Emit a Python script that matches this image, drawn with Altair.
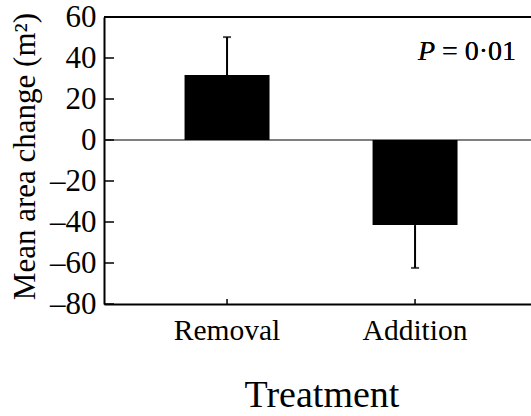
import altair as alt
import pandas as pd

treatments = ["Removal", "Addition"]
means = [31.7, -41.5]
err_ends = [50.2, -62.4]
y_ticks = [-80, -60, -40, -20, 0, 20, 40, 60]

FONT = "Liberation Serif"
W, H = 427, 287

df = pd.DataFrame({"Treatment": treatments, "Mean": means, "End": err_ends})
ticks_df = pd.DataFrame({"v": y_ticks})

xscale = alt.Scale(domain=treatments, paddingInner=0.548, paddingOuter=0.4096, align=0.523)
yscale = alt.Scale(domain=[-80, 60], nice=False, zero=False)

x_enc = alt.X(
    "Treatment:N", sort=treatments, scale=xscale,
    axis=alt.Axis(
        title="Treatment", labelAngle=0, ticks=False, grid=False,
        domain=True, domainColor="black", domainWidth=2,
        labelFont=FONT, labelFontSize=29.5, labelColor="black", labelPadding=12,
        titleFont=FONT, titleFontSize=38, titleFontWeight="normal", titleColor="black",
        titleX=217.5, titleY=102.7, titleBaseline="alphabetic", titleAlign="center",
    ),
)
y_enc = alt.Y(
    "Mean:Q", scale=yscale,
    axis=alt.Axis(
        title="Mean area change (m²)", values=y_ticks, ticks=False, grid=False,
        domain=True, domainColor="black", domainWidth=2,
        labelExpr="replace(replace(datum.label, '-', '\u2013'), '\u2212', '\u2013')",
        labelFont=FONT, labelFontSize=31, labelColor="black", labelPadding=8,
        titleFont=FONT, titleFontSize=31, titleFontWeight="normal", titleColor="black",
        titleX=-70, titleY=139, titleAngle=270, titleBaseline="alphabetic", titleAlign="center",
    ),
)

base = alt.Chart(df)

bars = base.mark_bar(color="black").encode(x=x_enc, y=y_enc)

zero_line = alt.Chart(df).mark_rule(color="#555555", strokeWidth=1).encode(y=alt.datum(0, scale=yscale))

err = base.mark_rule(color="black", strokeWidth=2).encode(
    x=alt.X("Treatment:N", sort=treatments), y="Mean:Q", y2="End:Q"
)
caps = base.mark_tick(color="black", size=8, thickness=2, orient="horizontal").encode(
    x=alt.X("Treatment:N", sort=treatments), y=alt.Y("End:Q")
)

yticks = alt.Chart(ticks_df).mark_rule(color="black", strokeWidth=1.5).encode(
    y=alt.Y("v:Q"), x=alt.value(0), x2=alt.value(10)
)
xticks = base.mark_rule(color="black", strokeWidth=1.5).encode(
    x=alt.X("Treatment:N", sort=treatments), y=alt.value(H), y2=alt.value(H - 5)
)

top_border = alt.Chart(df).mark_rule(color="black", strokeWidth=2).encode(
    x=alt.value(0), x2=alt.value(W), y=alt.value(0)
)

p_italic = alt.Chart(df).mark_text(
    font=FONT, fontSize=28, fontStyle="italic", align="left", baseline="alphabetic", color="black"
).encode(x=alt.value(314), y=alt.value(43), text=alt.value("P"))
p_rest = alt.Chart(df).mark_text(
    font=FONT, fontSize=28, align="left", baseline="alphabetic", color="black"
).encode(x=alt.value(338), y=alt.value(43), text=alt.value("= 0·01"))

chart = alt.layer(
    zero_line, bars, err, caps, yticks, xticks, top_border, p_italic, p_rest
).properties(
    width=W, height=H,
    autosize=alt.AutoSizeParams(type="none"),
    padding={"left": 104, "top": 17, "right": 0, "bottom": 112},
).configure_view(stroke=None).configure(background="white")

chart.save("out.html", embed_options={"renderer": "svg", "actions": False})
